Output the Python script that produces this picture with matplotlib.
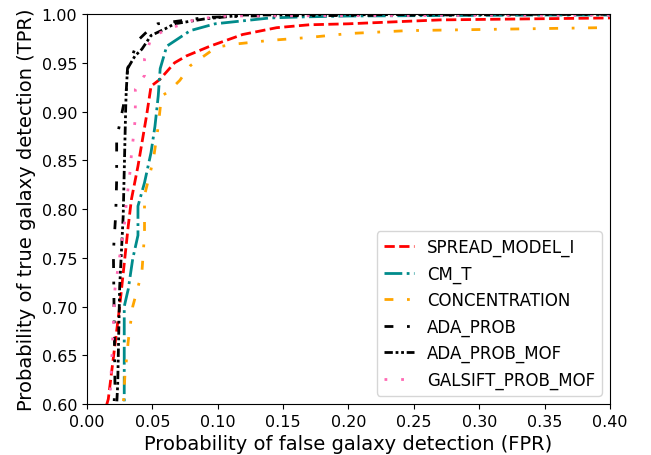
import matplotlib.pyplot as plt

# ROC curves (FPR, TPR)
fpr_spread = [0.012, 0.0163, 0.025, 0.0316, 0.034, 0.039, 0.0456, 0.049, 0.0558, 0.067, 0.076, 0.094, 0.119, 0.145, 0.17, 0.20, 0.27, 0.40]
tpr_spread = [0.585, 0.605, 0.70, 0.783, 0.81, 0.844, 0.896, 0.926, 0.933, 0.950, 0.957, 0.967, 0.979, 0.986, 0.989, 0.990, 0.994, 0.996]

fpr_cmt = [0.0285, 0.0285, 0.0316, 0.035, 0.039, 0.039, 0.044, 0.049, 0.052, 0.0545, 0.056, 0.061, 0.079, 0.098, 0.119, 0.14, 0.163, 0.20, 0.354, 0.40]
tpr_cmt = [0.58, 0.70, 0.718, 0.749, 0.773, 0.803, 0.827, 0.858, 0.885, 0.916, 0.944, 0.967, 0.983, 0.990, 0.993, 0.996, 0.997, 0.998, 0.999, 0.999]

fpr_conc = [0.027, 0.029, 0.0316, 0.035, 0.042, 0.044, 0.044, 0.0507, 0.0545, 0.057, 0.062, 0.071, 0.079, 0.099, 0.112, 0.14, 0.17, 0.20, 0.245, 0.392, 0.40]
tpr_conc = [0.58, 0.629, 0.665, 0.70, 0.735, 0.774, 0.814, 0.85, 0.885, 0.916, 0.92, 0.932, 0.947, 0.966, 0.969, 0.973, 0.976, 0.980, 0.983, 0.986, 0.986]

fpr_ada = [0.020, 0.0214, 0.0202, 0.022, 0.0227, 0.0227, 0.030, 0.031, 0.039, 0.0467, 0.054, 0.071, 0.0915, 0.125, 0.40]
tpr_ada = [0.58, 0.62, 0.756, 0.795, 0.83, 0.872, 0.92, 0.944, 0.973, 0.983, 0.990, 0.993, 0.9966, 0.998, 1.0]

fpr_ada_mof = [0.022, 0.0235, 0.025, 0.0277, 0.0296, 0.030, 0.031, 0.0367, 0.042, 0.049, 0.06, 0.067, 0.09, 0.12, 0.40]
tpr_ada_mof = [0.58, 0.62, 0.72, 0.793, 0.903, 0.92, 0.944, 0.957, 0.964, 0.978, 0.985, 0.990, 0.995, 0.999, 1.0]

fpr_galsift = [0.016, 0.0176, 0.0214, 0.029, 0.030, 0.033, 0.034, 0.0355, 0.0367, 0.037, 0.037, 0.044, 0.044, 0.048, 0.053, 0.063, 0.084, 0.107, 0.40]
tpr_galsift = [0.58, 0.605, 0.718, 0.788, 0.805, 0.839, 0.856, 0.874, 0.89, 0.906, 0.923, 0.937, 0.954, 0.971, 0.979, 0.985, 0.995, 0.998, 0.999]

fig = plt.figure(figsize=(6.51, 4.56), dpi=100)
ax = fig.add_axes([0.1336, 0.1118, 0.8034, 0.8552])

lw = 2
ax.plot(fpr_spread, tpr_spread, color='red', ls='--', lw=lw, label='SPREAD_MODEL_I')
ax.plot(fpr_cmt, tpr_cmt, color='darkcyan', ls='-.', lw=lw, label='CM_T')
ax.plot(fpr_conc, tpr_conc, color='orange', ls=(0, (3.2, 4.9, 1, 4.9)), lw=lw, label='CONCENTRATION')
ax.plot(fpr_ada, tpr_ada, color='black', ls=(0, (3.2, 4.9, 1, 4.9)), lw=lw, label='ADA_PROB')
ax.plot(fpr_ada_mof, tpr_ada_mof, color='black', ls=(0, (3, 1, 1, 1, 1, 1)), lw=lw, label='ADA_PROB_MOF')
ax.plot(fpr_galsift, tpr_galsift, color='hotpink', ls=(0, (1, 5)), lw=lw, label='GALSIFT_PROB_MOF')

ax.set_xlim(0, 0.40)
ax.set_ylim(0.60, 1.00)
ax.set_xticks([0.00, 0.05, 0.10, 0.15, 0.20, 0.25, 0.30, 0.35, 0.40])
ax.set_yticks([0.60, 0.65, 0.70, 0.75, 0.80, 0.85, 0.90, 0.95, 1.00])
ax.tick_params(labelsize=11.5)
ax.set_xlabel('Probability of false galaxy detection (FPR)', fontsize=14)
ax.set_ylabel('Probability of true galaxy detection (TPR)', fontsize=14)
ax.legend(loc='lower right', fontsize=12, handlelength=1.8)

fig.savefig('out.png', dpi=100)
